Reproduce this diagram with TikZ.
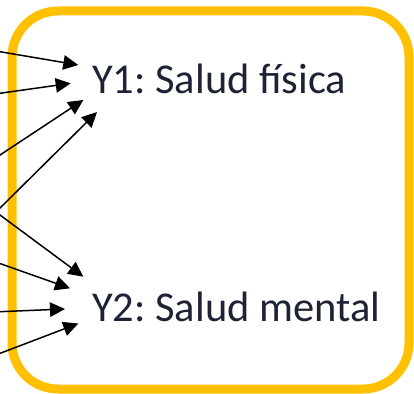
\documentclass[tikz,border=0pt]{standalone}
\usepackage{fontspec}
\setmainfont{Carlito}
\usetikzlibrary{arrows.meta}
\definecolor{boxorange}{HTML}{FFC000}
\definecolor{txtdark}{HTML}{1E2235}
\frenchspacing
\tikzset{
  frame/.style={draw=boxorange, line width=9pt, rounded corners=46pt},
  label/.style={anchor=base west, inner sep=0pt, text=txtdark, font=\fontsize{42.5}{50}\selectfont},
  arr/.style={draw=black, line width=1.5pt, -{Triangle[length=15pt,width=14.5pt]}}
}
\begin{document}
\begin{tikzpicture}[x=1pt,y=-1pt]
\useasboundingbox (0,0) rectangle (414,393);
\draw[frame] (12,11) rectangle (409,389);
\node[label] (y1) at (92,93.3) {Y1: Salud física};
\node[label] (y2) at (92,321.7) {Y2: Salud mental};
% free start points (off the left edge)
\coordinate (s1) at (-3,51.2);
\coordinate (s2) at (-3,93.7);
\coordinate (s3) at (-3,157);
\coordinate (s4) at (-3,211);
\coordinate (s5) at (-3,212.8);
\coordinate (s6) at (-3,262.5);
\coordinate (s7) at (-3,311.8);
\coordinate (s8) at (-3,354.5);
% arrow tips
\coordinate (t1) at (78.3,65);
\coordinate (t2) at (70.7,83.3);
\coordinate (t3) at (83.3,100);
\coordinate (t4) at (97,112);
\coordinate (t5) at (83.3,276.7);
\coordinate (t6) at (70,288.3);
\coordinate (t7) at (65,309);
\coordinate (t8) at (78.3,323.5);
\foreach \i in {1,...,8} {\draw[arr] (s\i) -- (t\i);}
\end{tikzpicture}
\end{document}
